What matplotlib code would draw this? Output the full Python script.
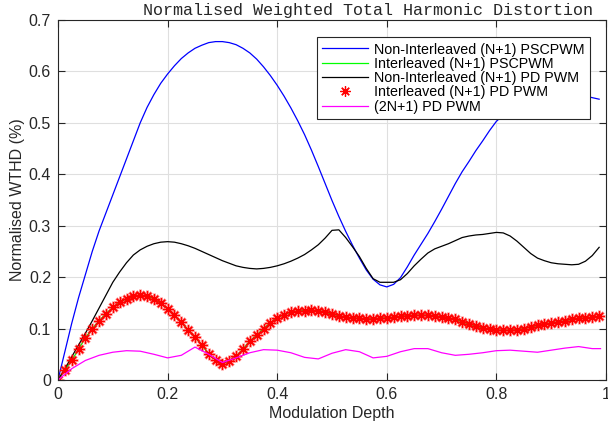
import numpy as np
import matplotlib
matplotlib.use("Agg")
import matplotlib.pyplot as plt
from matplotlib.ticker import FuncFormatter


# ---------- data ----------

# fine sample grid (0 .. 0.9875, step 0.0125)
depth_fine = np.arange(80) * 0.0125
# coarser grid for the multilevel PD curve
depth = np.append(np.arange(0, 0.976, 0.025), 0.99)

wthd_nonint_pscpwm = [
    0.000, 0.055, 0.110, 0.160, 0.205, 0.250, 0.290, 0.325, 0.360, 0.395,
    0.430, 0.465, 0.500, 0.530, 0.555, 0.577, 0.595, 0.611, 0.625, 0.636,
    0.645, 0.651, 0.656, 0.658, 0.658, 0.656, 0.652, 0.645, 0.636, 0.624,
    0.609, 0.592, 0.573, 0.552, 0.529, 0.504, 0.477, 0.447, 0.415, 0.382,
    0.349, 0.318, 0.289, 0.262, 0.237, 0.214, 0.196, 0.185, 0.181, 0.186,
    0.199, 0.220, 0.243, 0.264, 0.285, 0.308, 0.332, 0.357, 0.382, 0.405,
    0.425, 0.446, 0.465, 0.485, 0.503, 0.515, 0.525, 0.533, 0.540, 0.546,
    0.551, 0.555, 0.557, 0.558, 0.558, 0.557, 0.555, 0.552, 0.549, 0.546,
]

wthd_nonint_pd = [
    0.000, 0.022, 0.045, 0.068, 0.091, 0.115, 0.140, 0.165, 0.190, 0.210,
    0.228, 0.243, 0.253, 0.260, 0.265, 0.268, 0.269, 0.268, 0.265, 0.261,
    0.256, 0.250, 0.244, 0.238, 0.232, 0.227, 0.222, 0.219, 0.217, 0.216,
    0.217, 0.219, 0.222, 0.226, 0.231, 0.237, 0.244, 0.253, 0.263, 0.276,
    0.291, 0.292, 0.277, 0.259, 0.240, 0.217, 0.197, 0.190, 0.190, 0.190,
    0.195, 0.207, 0.222, 0.235, 0.247, 0.255, 0.260, 0.265, 0.271, 0.277,
    0.280, 0.282, 0.283, 0.285, 0.287, 0.286, 0.280, 0.270, 0.258, 0.246,
    0.237, 0.232, 0.228, 0.226, 0.225, 0.224, 0.225, 0.231, 0.242, 0.258,
]

# interleaved schemes (PSCPWM and PD give the same result)
wthd_interleaved = [
    0.000, 0.020, 0.038, 0.060, 0.082, 0.100, 0.115, 0.129, 0.141, 0.151,
    0.158, 0.163, 0.165, 0.163, 0.158, 0.149, 0.138, 0.126, 0.112, 0.098,
    0.083, 0.068, 0.050, 0.039, 0.032, 0.037, 0.046, 0.060, 0.076, 0.087,
    0.100, 0.111, 0.121, 0.127, 0.132, 0.134, 0.135, 0.1355, 0.135, 0.132,
    0.128, 0.125, 0.122, 0.121, 0.120, 0.119, 0.119, 0.120, 0.121, 0.122,
    0.124, 0.125, 0.126, 0.126, 0.126, 0.125, 0.123, 0.121, 0.118, 0.113,
    0.109, 0.105, 0.101, 0.099, 0.097, 0.0965, 0.097, 0.098, 0.100, 0.103,
    0.106, 0.109, 0.111, 0.113, 0.115, 0.118, 0.120, 0.121, 0.122, 0.124,
]

wthd_2n1_pd = [
    0.000, 0.022, 0.038, 0.048, 0.054, 0.057, 0.056, 0.050, 0.043, 0.048,
    0.064, 0.050, 0.034, 0.043, 0.053, 0.059, 0.058, 0.053, 0.044, 0.041,
    0.052, 0.059, 0.055, 0.043, 0.046, 0.055, 0.061, 0.061, 0.053, 0.048,
    0.050, 0.053, 0.057, 0.058, 0.056, 0.054, 0.058, 0.062, 0.065, 0.061,
    0.061,
]

labels = [
    "Non-Interleaved (N+1) PSCPWM",
    "Interleaved (N+1) PSCPWM",
    "Non-Interleaved (N+1) PD PWM",
    "Interleaved (N+1) PD PWM",
    "(2N+1) PD PWM",
]

x_ticks = [0, 0.2, 0.4, 0.6, 0.8, 1.0]
y_ticks = [0, 0.1, 0.2, 0.3, 0.4, 0.5, 0.6, 0.7]


# ---------- plotting ----------

plt.rcParams["font.family"] = ["Liberation Sans", "DejaVu Sans"]
TXT = "#262626"

fig = plt.figure(figsize=(6.08, 4.28), dpi=100)
ax = fig.add_axes([58 / 608, 48 / 428, 548 / 608, 360 / 428])

lw = 0.9
ax.plot(depth_fine, wthd_nonint_pscpwm, color="#0000ff", lw=lw, label=labels[0])
ax.plot(depth_fine, wthd_interleaved, color="#00ff00", lw=lw, label=labels[1])
ax.plot(depth_fine, wthd_nonint_pd, color="black", lw=lw, label=labels[2])

star = (8, 2, 0)
# soft halo under the asterisks, then the crisp markers
ax.plot(depth_fine, wthd_interleaved, linestyle="none", marker=star,
        markersize=8.5, markeredgewidth=2.0, color="#ff0000", alpha=0.3)
ax.plot(depth_fine, wthd_interleaved, linestyle="none", marker=star,
        markersize=7.5, markeredgewidth=0.9, color="#ff0000", label=labels[3])
ax.plot(depth, wthd_2n1_pd, color="#ff00ff", lw=lw, label=labels[4])

ax.set_xlim(0, 1)
ax.set_ylim(0, 0.7)
ax.set_xticks(x_ticks)
ax.set_yticks(y_ticks)
fmt = FuncFormatter(lambda v, p: f"{v:g}")
ax.xaxis.set_major_formatter(fmt)
ax.yaxis.set_major_formatter(fmt)

ax.grid(True, color="#dfdfdf", lw=0.8)
ax.set_axisbelow(True)
ax.tick_params(direction="in", length=5, width=0.8, color=TXT,
               top=True, right=True, labelsize=11.5, labelcolor=TXT, pad=5)
for sp in ax.spines.values():
    sp.set_color(TXT)
    sp.set_linewidth(0.8)

ax.set_xlabel("Modulation Depth", fontsize=11.5, color=TXT, labelpad=3)
ax.set_ylabel("Normalised WTHD (%)", fontsize=11.5, color=TXT, labelpad=3)

fig.text(0.6045, 1 - 15 / 428, "Normalised Weighted Total Harmonic Distortion",
         family="Liberation Mono", fontsize=12.1, color=TXT,
         ha="center", va="baseline")

leg = ax.legend(loc="upper left", bbox_to_anchor=((317 - 58) / 548, (380 - 37.5) / 360),
                borderaxespad=0, fontsize=10.3, handlelength=3.2, handletextpad=0.45,
                labelspacing=0.02, borderpad=0.35, numpoints=1, fancybox=False,
                framealpha=1, edgecolor=TXT)
leg.get_frame().set_linewidth(0.8)
for t in leg.get_texts():
    t.set_color("black")

fig.savefig("out.png", dpi=100)
